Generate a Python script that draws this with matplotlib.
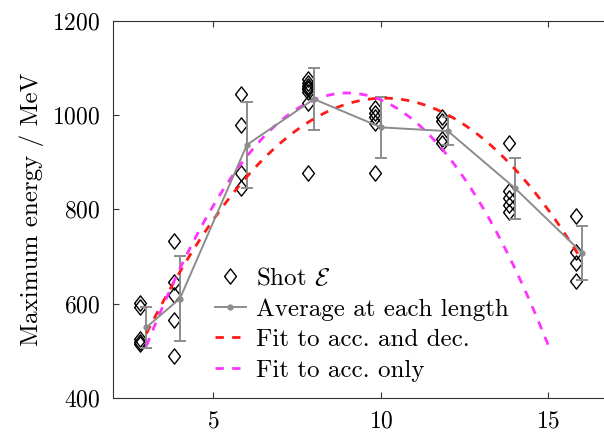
import numpy as np
import matplotlib.pyplot as plt
from matplotlib.lines import Line2D

plt.rcParams['font.family'] = 'serif'
plt.rcParams['font.serif'] = ['cmr10']
plt.rcParams['mathtext.fontset'] = 'cm'
plt.rcParams['axes.formatter.use_mathtext'] = True

# Accelerator lengths and individual shot energies (MeV)
lengths = [3, 4, 6, 8, 10, 12, 14, 16]
shots = [
    [602, 592, 525, 518, 514],
    [732, 647, 619, 565, 488],
    [1045, 979, 878, 845],
    [1077, 1068, 1062, 1058, 1055, 1050, 1025, 878],
    [1015, 1005, 995, 983, 877],
    [995, 988, 950, 940],
    [940, 840, 825, 810, 795],
    [785, 710, 686, 649],
]
avg_energy = [550, 611, 937, 1034, 974, 966, 845, 708]
err_energy = [43, 90, 91, 65, 65, 30, 65, 57]

# Quadratic fit parameters: peak length, peak energy, curvature
fit_both = (10.1, 1036, 9.9)
fit_acc = (9.0, 1047, 14.9)

shot_offset = -0.18
diamond = [(-0.78, 0), (0, 1), (0.78, 0), (0, -1), (-0.78, 0)]
shot_style = dict(linestyle='none', marker=diamond, markersize=11,
                  markerfacecolor='none', markeredgecolor='k',
                  markeredgewidth=1.0)
grey = '#8c8c8c'

fig = plt.figure(figsize=(6.04, 4.34), dpi=100)
ax = fig.add_axes([0.187, 0.083, 0.832, 0.869])

for L, vals in zip(lengths, shots):
    ax.plot([L + shot_offset] * len(vals), vals, **shot_style)

ax.errorbar(lengths, avg_energy, yerr=err_energy, color=grey,
            marker='o', markersize=3.5, linewidth=1.4, capsize=4,
            elinewidth=1.4, capthick=1.4)

x1 = np.linspace(3, 16, 200)
p0, e0, a = fit_both
red_h, = ax.plot(x1, e0 - a * (x1 - p0) ** 2, '--', color='#ff1a1a',
                 linewidth=2, dashes=(3, 3))
x2 = np.linspace(3, 15, 200)
p0, e0, a = fit_acc
mag_h, = ax.plot(x2, e0 - a * (x2 - p0) ** 2, '--', color='#ff33ff',
                 linewidth=2, dashes=(3, 3))

ax.set_xlim(2, 17)
ax.set_ylim(400, 1200)
ax.set_xticks([5, 10, 15])
ax.set_yticks([400, 600, 800, 1000, 1200])
ax.tick_params(direction='in', top=True, right=True, length=4, pad=9,
               labelsize=17, color='#333333')
for s in ax.spines.values():
    s.set_color('#333333')
ax.set_ylabel('Maximum energy / MeV', fontsize=18, labelpad=6)

shot_h = Line2D([], [], **shot_style)
avg_h = Line2D([], [], color=grey, marker='o', markersize=3.5, linewidth=1.4)
ax.legend([shot_h, avg_h, red_h, mag_h],
          ['Shot $\\mathcal{E}$', 'Average at each length',
           'Fit to acc. and dec.', 'Fit to acc. only'],
          loc='lower left', bbox_to_anchor=(0.158, -0.016), frameon=False,
          fontsize=18, handlelength=1.25, handletextpad=0.4, labelspacing=0.32)

fig.savefig('out.png', dpi=100)
